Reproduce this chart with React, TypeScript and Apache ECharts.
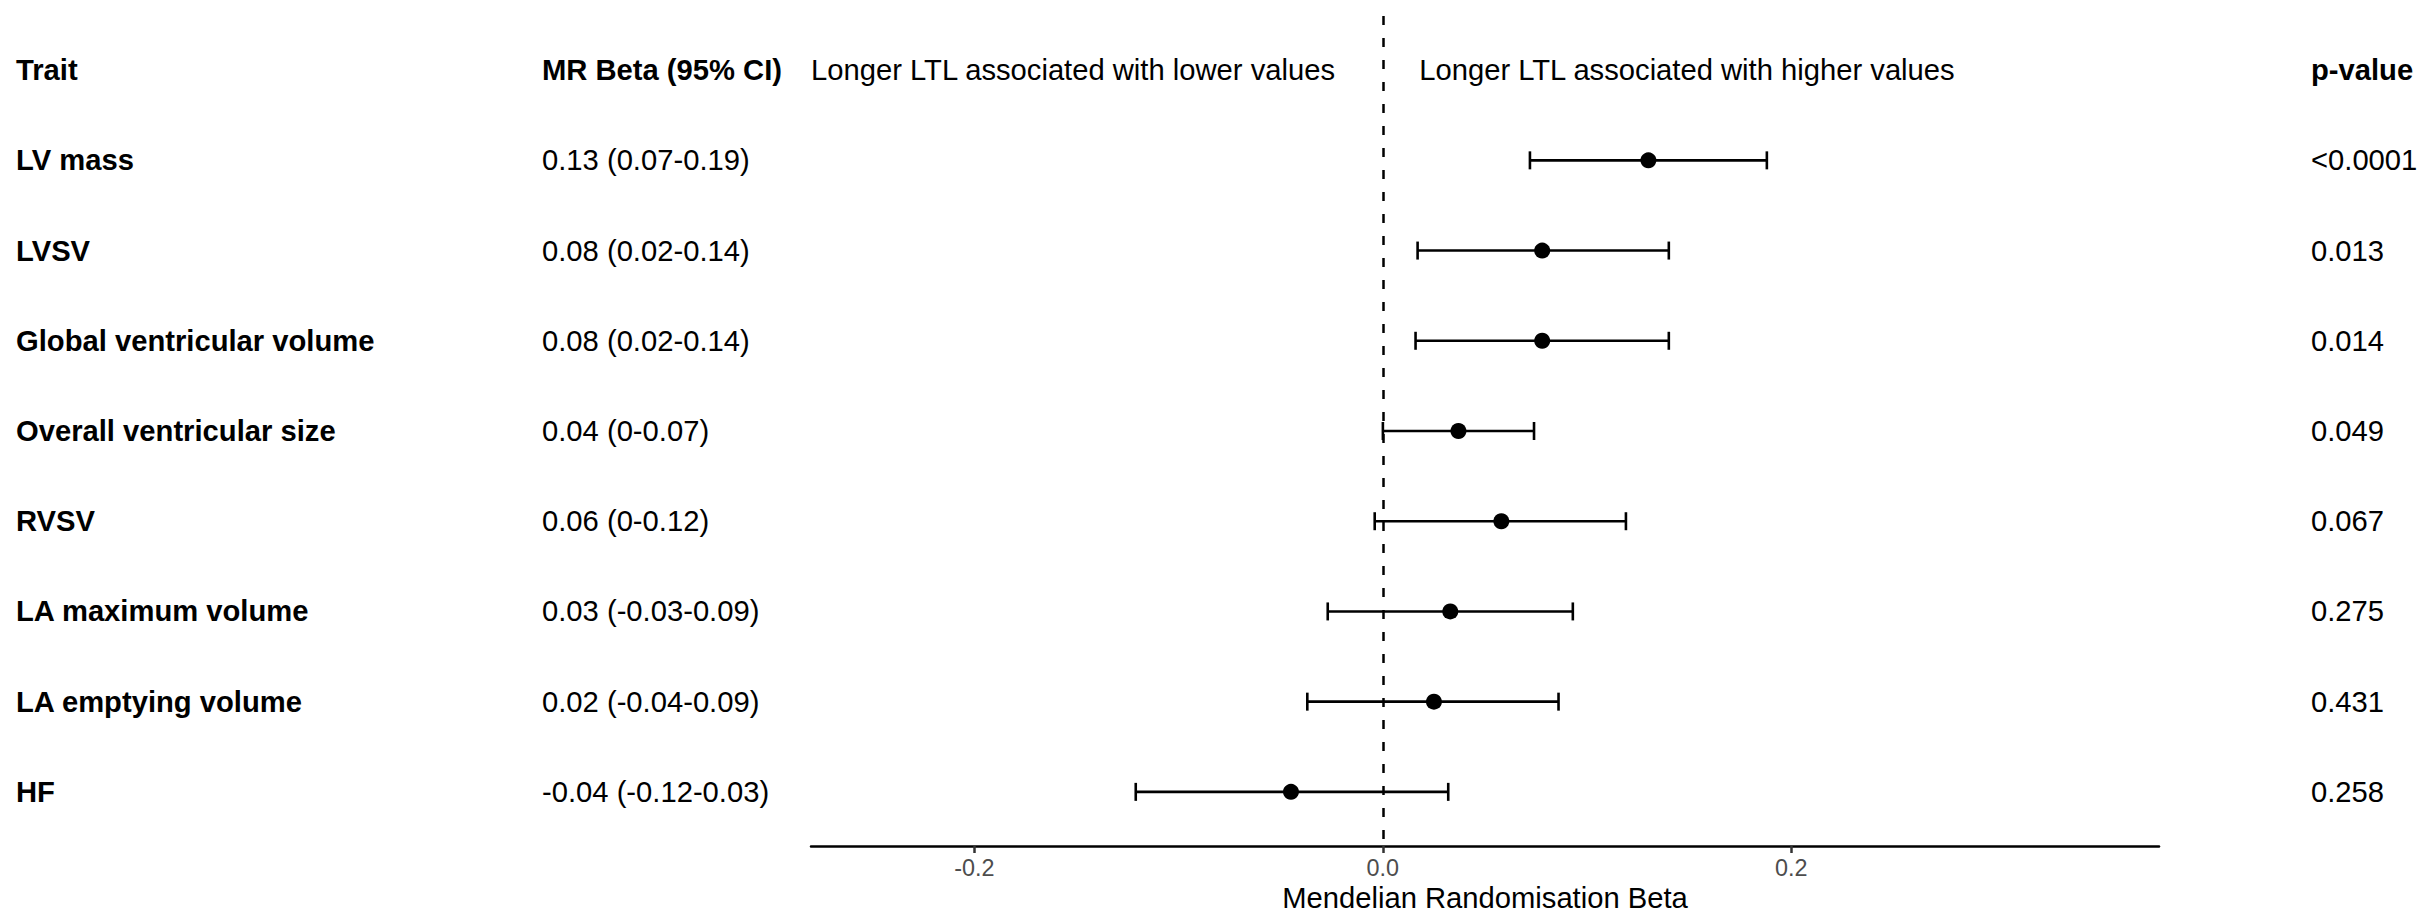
import React, { useEffect, useRef } from "react";
import * as echarts from "echarts";

// ---- data ----
const traits = [
  "LV mass",
  "LVSV",
  "Global ventricular volume",
  "Overall ventricular size",
  "RVSV",
  "LA maximum volume",
  "LA emptying volume",
  "HF",
];
const betaLabels = [
  "0.13 (0.07-0.19)",
  "0.08 (0.02-0.14)",
  "0.08 (0.02-0.14)",
  "0.04 (0-0.07)",
  "0.06 (0-0.12)",
  "0.03 (-0.03-0.09)",
  "0.02 (-0.04-0.09)",
  "-0.04 (-0.12-0.03)",
];
const pValues = ["<0.0001", "0.013", "0.014", "0.049", "0.067", "0.275", "0.431", "0.258"];
const beta = [0.13, 0.078, 0.078, 0.037, 0.058, 0.033, 0.025, -0.045];
const lower = [0.072, 0.017, 0.016, 0.0, -0.004, -0.027, -0.037, -0.121];
const upper = [0.188, 0.14, 0.14, 0.074, 0.119, 0.093, 0.086, 0.032];
const headerTrait = "Trait";
const headerBeta = "MR Beta (95% CI)";
const headerP = "p-value";
const annotationTexts = [
  "Longer LTL associated with lower values",
  "Longer LTL associated with higher values",
];
const annotationX = [-0.28, 0.0178];
const xTicks = [-0.2, 0, 0.2];
const xMin = -0.28;
const xMax = 0.38;
const axisTitle = "Mendelian Randomisation Beta";

// ---- layout (styles/positions) ----
const W = 2423;
const H = 923;
const FONT = "'Liberation Sans', Arial, Helvetica, sans-serif";
const FS = 29.2;
const COL_TRAIT = 16;
const COL_BETA = 542;
const COL_P = 2311;
const TOP = 16;
const BOTTOM = 77;
const rowPos = traits.map((_, i) => i + 2);
const HEADER_ROW = 1;

export default function App() {
  const ref = useRef<HTMLDivElement | null>(null);

  useEffect(() => {
    if (!ref.current) return;
    const chart = echarts.init(ref.current, undefined, { renderer: "svg" });

    const labelBase = {
      show: true,
      position: "right",
      distance: 0,
      formatter: (p: any) => p.name,
      fontSize: FS,
      fontFamily: FONT,
      color: "#000",
      opacity: 1,
    };

    const textSeries = (x: number, header: string, items: string[], boldItems: boolean, id: string) => ({
      id,
      type: "scatter",
      xAxisIndex: 1,
      yAxisIndex: 1,
      symbolSize: 0,
      silent: true,
      clip: false,
      itemStyle: { opacity: 1 },
      data: [
        { value: [x, HEADER_ROW], name: header, label: { fontWeight: "bold" } },
        ...items.map((t, i) => ({
          value: [x, rowPos[i]],
          name: t,
          label: { fontWeight: boldItems ? "bold" : "normal" },
        })),
      ],
      label: labelBase,
    });

    const option: any = {
      animation: false,
      backgroundColor: "#fff",
      textStyle: { fontFamily: FONT },
      grid: [
        { left: 811, right: W - 2159, top: TOP, bottom: BOTTOM },
        { left: 0, right: 0, top: TOP, bottom: BOTTOM },
      ],
      xAxis: [
        {
          type: "value",
          gridIndex: 0,
          min: xMin,
          max: xMax,
          splitLine: { show: false },
          axisLine: { show: true, onZero: false, lineStyle: { color: "#000", width: 2.5 } },
          axisTick: {
            show: true,
            customValues: xTicks,
            length: 7,
            lineStyle: { color: "#333", width: 2.5 },
          },
          axisLabel: {
            customValues: xTicks,
            formatter: (v: number) => v.toFixed(1),
            fontSize: 23.4,
            color: "#4D4D4D",
            fontFamily: FONT,
            margin: 10,
          },
          name: axisTitle,
          nameLocation: "middle",
          nameGap: 37,
          nameTextStyle: { fontSize: FS, color: "#000", fontFamily: FONT },
        },
        { type: "value", gridIndex: 1, min: 0, max: W, show: false },
      ],
      yAxis: [
        { type: "value", gridIndex: 0, min: 0.4, max: 9.6, inverse: true, show: false },
        { type: "value", gridIndex: 1, min: 0.4, max: 9.6, inverse: true, show: false },
      ],
      series: [
        {
          id: "ci",
          type: "custom",
          xAxisIndex: 0,
          yAxisIndex: 0,
          silent: true,
          dimensions: ["lo", "hi", "row"],
          encode: { x: [0, 1], y: 2 },
          data: traits.map((_, i) => [lower[i], upper[i], rowPos[i]]),
          renderItem: (params: any, api: any) => {
            const lo = api.coord([api.value(0), api.value(2)]);
            const hi = api.coord([api.value(1), api.value(2)]);
            const cap = 9;
            const style = { stroke: "#000", lineWidth: 2.6, fill: "none" };
            return {
              type: "group",
              children: [
                { type: "line", shape: { x1: lo[0], y1: lo[1], x2: hi[0], y2: hi[1] }, style },
                { type: "line", shape: { x1: lo[0], y1: lo[1] - cap, x2: lo[0], y2: lo[1] + cap }, style },
                { type: "line", shape: { x1: hi[0], y1: hi[1] - cap, x2: hi[0], y2: hi[1] + cap }, style },
              ],
            };
          },
          z: 2,
        },
        {
          id: "points",
          type: "scatter",
          xAxisIndex: 0,
          yAxisIndex: 0,
          silent: true,
          symbol: "circle",
          symbolSize: 16,
          itemStyle: { color: "#000", opacity: 1 },
          data: traits.map((_, i) => [beta[i], rowPos[i]]),
          z: 4,
          markLine: {
            silent: true,
            symbol: ["none", "none"],
            label: { show: false },
            lineStyle: { color: "#000", width: 2.5, type: [9, 13], opacity: 1 },
            data: [{ xAxis: 0 }],
            z: 3,
          },
        },
        {
          id: "annotations",
          type: "scatter",
          xAxisIndex: 0,
          yAxisIndex: 0,
          symbolSize: 0,
          silent: true,
          clip: false,
          itemStyle: { opacity: 1 },
          data: annotationTexts.map((t, i) => ({ value: [annotationX[i], HEADER_ROW], name: t })),
          label: labelBase,
        },
        textSeries(COL_TRAIT, headerTrait, traits, true, "colTrait"),
        textSeries(COL_BETA, headerBeta, betaLabels, false, "colBeta"),
        textSeries(COL_P, headerP, pValues, false, "colP"),
      ],
    };

    chart.setOption(option);
    return () => chart.dispose();
  }, []);

  return (
    <div
      ref={ref}
      style={{ position: "fixed", left: 0, top: 0, width: W, height: H, background: "#fff" }}
    />
  );
}
